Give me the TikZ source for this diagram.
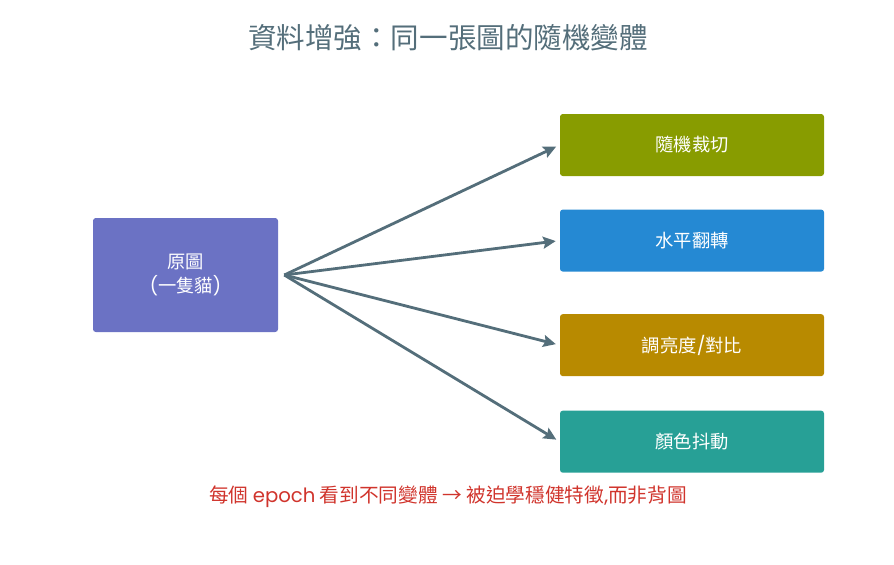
\documentclass[tikz,border=0pt]{standalone}
\usepackage{fontspec}
\setmainfont{Noto Sans CJK TC}
\newfontfamily\latinfont{Poppins}
\usepackage{tikz}
\usetikzlibrary{positioning, arrows.meta}

\definecolor{titlegray}{HTML}{546E7A}
\definecolor{origblue}{HTML}{6B72C4}
\definecolor{cropgreen}{HTML}{889C00}
\definecolor{flipblue}{HTML}{2589D3}
\definecolor{brightgold}{HTML}{B88A00}
\definecolor{jitterteal}{HTML}{27A096}
\definecolor{noteredd}{HTML}{D0342C}

\begin{document}
\begin{tikzpicture}[
        % Define styles for the nodes
        base_node/.style={align=center, rounded corners=2pt, text=white, font=\fontsize{13}{17}\selectfont, inner sep=0pt},
        orig_node/.style={base_node, fill=origblue, minimum width=4.625cm, minimum height=2.85cm},
        aug_node/.style={base_node, minimum width=6.6cm, minimum height=1.55cm},
        arrow/.style={-{Stealth[length=9pt, width=8.5pt, inset=1.5pt]}, line width=2pt, draw=titlegray, shorten >=0.1cm}
    ]

    % Fix the page size
    \useasboundingbox (0,0) rectangle (22.35,-14.1);

    % Title
    \node (title) at (11.2,-0.93) [text=titlegray, font=\fontsize{20.3}{24}\selectfont] {資料增強：同一張圖的隨機變體};

    % Original image
    \node (orig) [orig_node] at (4.6375,-6.875) {原圖\\{\latinfont(}一隻貓{\latinfont)}};
    \coordinate (fan) at ([xshift=0.15cm]orig.east);

    % Augmented variants
    \node (crop) [aug_node, fill=cropgreen] at (17.3,-3.625) {隨機裁切};
    \node (flip) [aug_node, fill=flipblue, below=0.825cm of crop] {水平翻轉};
    \node (bright) [aug_node, fill=brightgold, below=1.05cm of flip] {調亮度{\latinfont/}對比};
    \node (jitter) [aug_node, fill=jitterteal, below=0.85cm of bright] {顏色抖動};

    % Connect original to each variant
    \draw [arrow] (fan) -- (crop.west);
    \draw [arrow] (fan) -- (flip.west);
    \draw [arrow] (fan) -- (bright.west);
    \draw [arrow] (fan) -- (jitter.west);

    % Note below
    \node (note) at (11.2,-12.43) [text=noteredd, font=\fontsize{14}{17}\selectfont] {每個 {\latinfont epoch} 看到不同變體 → 被迫學穩健特徵{\latinfont,}而非背圖};

\end{tikzpicture}
\end{document}
